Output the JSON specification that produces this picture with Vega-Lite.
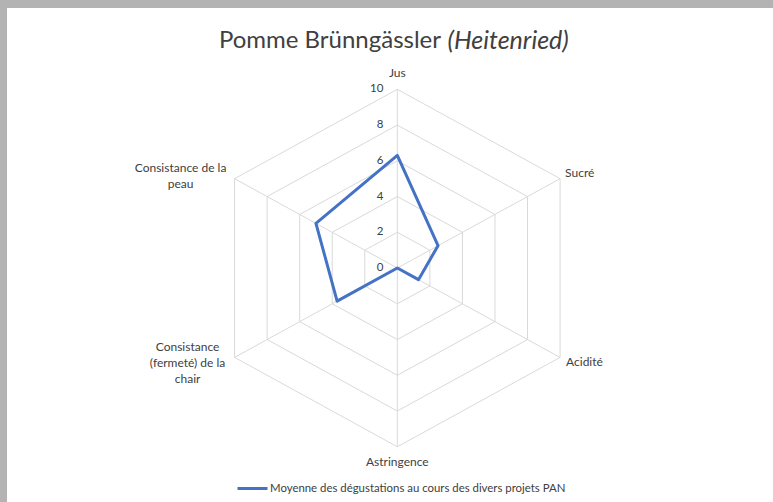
{
  "$schema": "https://vega.github.io/schema/vega-lite/v6.json",
  "width": 766,
  "height": 494,
  "autosize": {"type": "none"},
  "padding": {"left": 7, "top": 8, "right": 0, "bottom": 0},
  "background": "#b3b3b3",
  "config": {"view": {"fill": "white", "stroke": null}, "font": "Lato"},
  "title": {"text": "Pomme Brünngässler", "anchor": "start", "frame": "group", "align": "right", "dx": 434, "offset": -64, "baseline": "alphabetic", "fontSize": 24, "fontWeight": "normal", "color": "#404040", "font": "Lato"},
  "datasets": {
    "scores": [
      {"order": 0, "name": "Jus", "value": 6.3, "series": "Moyenne des dégustations au cours des divers projets PAN"},
      {"order": 1, "name": "Sucré", "value": 2.5, "series": "Moyenne des dégustations au cours des divers projets PAN"},
      {"order": 2, "name": "Acidité", "value": 1.3, "series": "Moyenne des dégustations au cours des divers projets PAN"},
      {"order": 3, "name": "Astringence", "value": 0, "series": "Moyenne des dégustations au cours des divers projets PAN"},
      {"order": 4, "name": "Consistance\n(fermeté) de la\nchair", "value": 3.7, "series": "Moyenne des dégustations au cours des divers projets PAN"},
      {"order": 5, "name": "Consistance de la\npeau", "value": 5.0, "series": "Moyenne des dégustations au cours des divers projets PAN"}
    ],
    "grid": [
      {"level": 2, "k": [0, 1, 2, 3, 4, 5]},
      {"level": 4, "k": [0, 1, 2, 3, 4, 5]},
      {"level": 6, "k": [0, 1, 2, 3, 4, 5]},
      {"level": 8, "k": [0, 1, 2, 3, 4, 5]},
      {"level": 10, "k": [0, 1, 2, 3, 4, 5]}
    ],
    "ticks": [{"level": 0}, {"level": 2}, {"level": 4}, {"level": 6}, {"level": 8}, {"level": 10}]
  },
  "encoding": {
    "x": {"field": "px", "type": "quantitative", "scale": {"domain": [-20.77, 19.99], "nice": false, "zero": false},
      "axis": {"orient": "top", "title": "(Heitenried)", "titleX": 440, "titleY": 40, "titleAlign": "left", "titleAnchor": "start", "titleBaseline": "alphabetic", "titleFont": "Lato", "titleFontSize": 25, "titleFontWeight": "normal", "titleFontStyle": "italic", "titleColor": "#404040", "labels": false, "ticks": false, "domain": false, "grid": false}},
    "y": {"field": "py", "type": "quantitative", "scale": {"domain": [-13.09, 14.55], "nice": false, "zero": false}, "axis": null}
  },
  "layer": [
    {
      "data": {"name": "grid"},
      "transform": [
        {"flatten": ["k"]},
        {"calculate": "datum.level * sin(datum.k * PI / 3)", "as": "px"},
        {"calculate": "datum.level * cos(datum.k * PI / 3)", "as": "py"}
      ],
      "mark": {"type": "line", "interpolate": "linear-closed", "stroke": "#d9d9d9", "strokeWidth": 1},
      "encoding": {"detail": {"field": "level", "type": "nominal"}, "order": {"field": "k", "type": "quantitative"}}
    },
    {
      "data": {"name": "scores"},
      "transform": [
        {"calculate": "10 * sin(datum.order * PI / 3)", "as": "px"},
        {"calculate": "10 * cos(datum.order * PI / 3)", "as": "py"}
      ],
      "layer": [
        {"mark": {"type": "rule", "stroke": "#d9d9d9", "strokeWidth": 1}, "encoding": {"x2": {"datum": 0}, "y2": {"datum": 0}}},
        {"transform": [{"filter": "datum.order == 0"}], "mark": {"type": "text", "align": "center", "baseline": "middle", "dy": -16, "fontSize": 12, "color": "#404040"}, "encoding": {"text": {"field": "name", "type": "nominal"}}},
        {"transform": [{"filter": "datum.order == 1"}], "mark": {"type": "text", "align": "left", "baseline": "middle", "dx": 5, "dy": -6, "fontSize": 12, "color": "#404040"}, "encoding": {"text": {"field": "name", "type": "nominal"}}},
        {"transform": [{"filter": "datum.order == 2"}], "mark": {"type": "text", "align": "left", "baseline": "middle", "dx": 6, "dy": 5, "fontSize": 12, "color": "#404040"}, "encoding": {"text": {"field": "name", "type": "nominal"}}},
        {"transform": [{"filter": "datum.order == 3"}], "mark": {"type": "text", "align": "center", "baseline": "middle", "dy": 15, "fontSize": 12, "color": "#404040"}, "encoding": {"text": {"field": "name", "type": "nominal"}}},
        {"transform": [{"filter": "datum.order == 4"}], "mark": {"type": "text", "align": "center", "baseline": "middle", "lineBreak": "\n", "lineHeight": 16, "dx": -47, "dy": -10, "fontSize": 12, "color": "#404040"}, "encoding": {"text": {"field": "name", "type": "nominal"}}},
        {"transform": [{"filter": "datum.order == 5"}], "mark": {"type": "text", "align": "center", "baseline": "middle", "lineBreak": "\n", "lineHeight": 16, "dx": -54, "dy": -11, "fontSize": 12, "color": "#404040"}, "encoding": {"text": {"field": "name", "type": "nominal"}}}
      ]
    },
    {
      "data": {"name": "ticks"},
      "transform": [
        {"calculate": "0", "as": "px"},
        {"calculate": "datum.level", "as": "py"}
      ],
      "mark": {"type": "text", "align": "right", "baseline": "middle", "dx": -14, "fontSize": 11.5, "color": "#404040"},
      "encoding": {"text": {"field": "level", "type": "quantitative"}}
    },
    {
      "data": {"name": "scores"},
      "transform": [
        {"calculate": "datum.value * sin(datum.order * PI / 3)", "as": "px"},
        {"calculate": "datum.value * cos(datum.order * PI / 3)", "as": "py"}
      ],
      "mark": {"type": "line", "interpolate": "linear-closed", "strokeWidth": 3, "strokeJoin": "round"},
      "encoding": {
        "order": {"field": "order", "type": "quantitative"},
        "color": {"field": "series", "type": "nominal", "scale": {"range": ["#4472c4"]},
          "legend": {"orient": "none", "legendX": 229, "legendY": 464, "title": null, "symbolType": "stroke", "symbolSize": 900, "symbolStrokeWidth": 3, "labelFont": "Lato", "labelFontSize": 11.4, "labelColor": "#404040", "labelOffset": 1, "padding": 0, "labelLimit": 500}}
      }
    }
  ]
}
